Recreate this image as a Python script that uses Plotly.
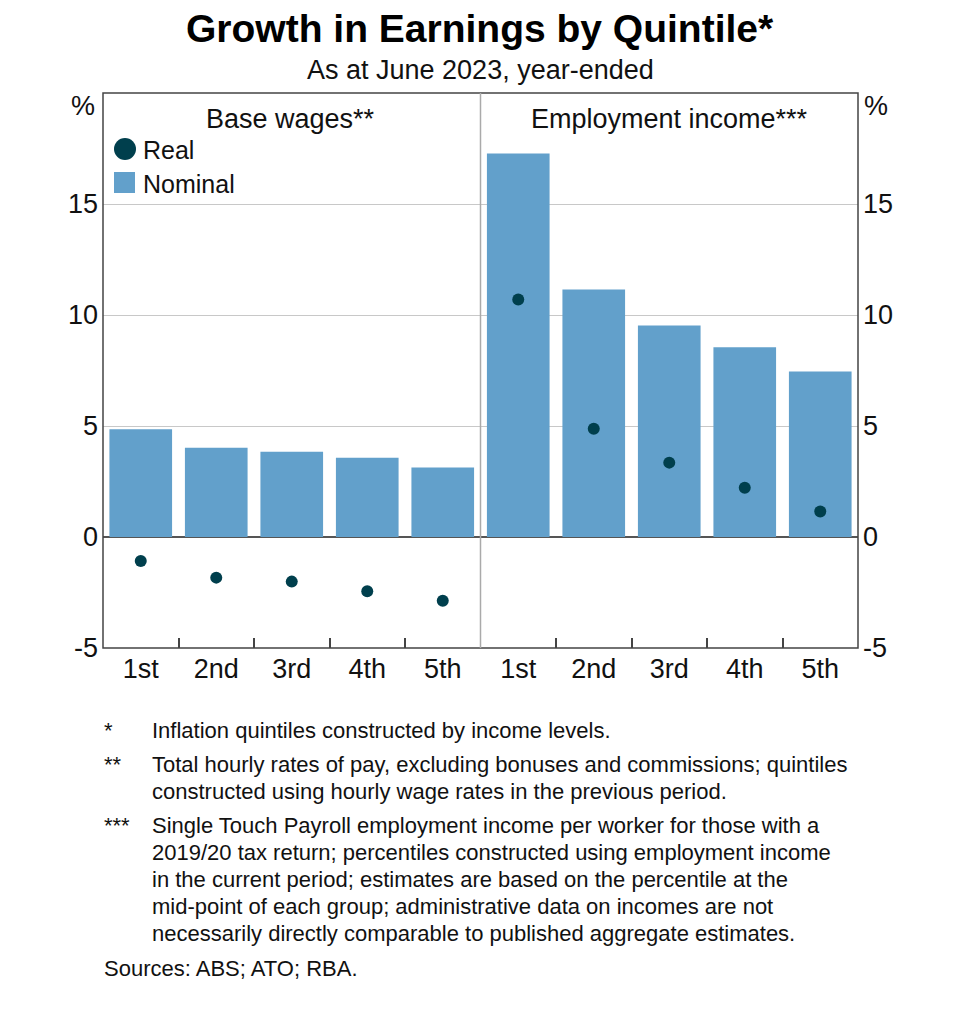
import plotly.graph_objects as go

categories = ["1st", "2nd", "3rd", "4th", "5th"]
base_nominal = [4.85, 4.02, 3.84, 3.57, 3.13]
base_real = [-1.08, -1.83, -2.01, -2.44, -2.87]
emp_nominal = [17.28, 11.15, 9.53, 8.55, 7.46]
emp_real = [10.7, 4.88, 3.35, 2.22, 1.15]
y_ticks = [-5, 0, 5, 10, 15]

panel_titles = ["Base wages**", "Employment income***"]
title = "Growth in Earnings by Quintile*"
subtitle = "As at June 2023, year-ended"
footnotes = [
    ("*", ["Inflation quintiles constructed by income levels."]),
    ("**", ["Total hourly rates of pay, excluding bonuses and commissions; quintiles",
            "constructed using hourly wage rates in the previous period."]),
    ("***", ["Single Touch Payroll employment income per worker for those with a",
             "2019/20 tax return; percentiles constructed using employment income",
             "in the current period; estimates are based on the percentile at the",
             "mid-point of each group; administrative data on incomes are not",
             "necessarily directly comparable to published aggregate estimates."]),
]
sources = "Sources: ABS; ATO; RBA."

BAR = "#62a0cb"
DOT = "#003f4d"
FONT = "Liberation Sans, Arial, sans-serif"
OFF = 8  # page body margin
W, H = 960 - OFF, 1011 - OFF
# plot area in reference pixel coordinates
PX0, PX1, PY0, PY1 = 103, 858, 93, 648
L, T = PX0 - OFF, PY0 - OFF
R = W - (PX1 - OFF)
B = H - (PY1 - OFF)

fig = go.Figure()
for i, (nom, real) in enumerate([(base_nominal, base_real), (emp_nominal, emp_real)]):
    xa = "x" if i == 0 else "x2"
    ya = "y" if i == 0 else "y2"
    fig.add_trace(go.Bar(x=categories, y=nom, marker=dict(color=BAR, line=dict(width=0)),
                         xaxis=xa, yaxis=ya, showlegend=False, hoverinfo="skip"))
    fig.add_trace(go.Scatter(x=categories, y=real, mode="markers",
                             marker=dict(color=DOT, size=12), xaxis=xa, yaxis=ya,
                             showlegend=False))

xcommon = dict(type="category", tickson="boundaries", ticks="inside", ticklen=10,
               tickcolor="#444", tickwidth=1.5, showgrid=False, showline=False,
               ticklabelstandoff=2,
               tickfont=dict(size=27, color="#111", family=FONT), fixedrange=True)
ycommon = dict(range=[-5, 20], tickvals=y_ticks, ticktext=[str(v) for v in y_ticks],
               showgrid=True, gridcolor="#c8c8c8", gridwidth=1.2,
               zeroline=True, zerolinecolor="#555", zerolinewidth=1.5,
               ticks="", showline=False, ticklabelstandoff=4,
               tickfont=dict(size=27, color="#111", family=FONT))

fig.update_layout(
    width=W, height=H,
    margin=dict(l=L, r=R, t=T, b=B, pad=0),
    paper_bgcolor="white", plot_bgcolor="white",
    bargap=0.17,
    xaxis=dict(domain=[0, 0.5], anchor="y", **xcommon),
    xaxis2=dict(domain=[0.5, 1], anchor="y2", **xcommon),
    yaxis=dict(anchor="x", side="left", **ycommon),
    yaxis2=dict(anchor="x2", side="right", matches="y", **ycommon),
    font=dict(family=FONT, color="#111"),
    showlegend=False,
)

pw = PX1 - PX0
ph = PY1 - PY0


def px(x):
    return (x - PX0) / pw


def py(y):
    return (PY1 - y) / ph


shapes = []
shapes.append(dict(type="rect", xref="paper", yref="paper", x0=0, x1=1, y0=0, y1=1,
                   line=dict(color="#444", width=1.5), layer="above"))
shapes.append(dict(type="line", xref="paper", yref="paper", x0=0.5, x1=0.5, y0=0, y1=1,
                   line=dict(color="#aaaaaa", width=1.5), layer="above"))
shapes.append(dict(type="circle", xref="paper", yref="paper",
                   x0=px(114), x1=px(136), y0=py(160), y1=py(138),
                   fillcolor=DOT, line=dict(width=0)))
shapes.append(dict(type="rect", xref="paper", yref="paper",
                   x0=px(114), x1=px(135), y0=py(193), y1=py(172),
                   fillcolor=BAR, line=dict(width=0)))
fig.update_layout(shapes=shapes)


def note(text, x, y, size, anchor="left", bold=False):
    return dict(text=f"<b>{text}</b>" if bold else text, x=px(x), y=py(y),
                xref="paper", yref="paper", showarrow=False,
                font=dict(size=size, family=FONT, color="#111" if not bold else "#000"),
                xanchor=anchor, yanchor="middle")


ann = [
    note(title, 480, 28, 39, "center", bold=True),
    note(subtitle, 480, 70, 27, "center"),
    note("%", 83, 106, 27, "center"),
    note("%", 876, 106, 27, "center"),
    note(panel_titles[0], (PX0 + (PX0 + PX1) / 2) / 2 - 1, 119, 27, "center"),
    note(panel_titles[1], ((PX0 + PX1) / 2 + PX1) / 2, 119, 27, "center"),
    note("Real", 141, 150, 25),
    note("Nominal", 141, 184, 25),
]

y = 730
for mark, lines in footnotes:
    ann.append(note(mark, 102, y, 22))
    for ln in lines:
        ann.append(note(ln, 150, y, 22))
        y += 27
    y += 7
ann.append(note(sources, 102, 969, 22))
fig.update_layout(annotations=ann)

fig.write_html("out.html")
